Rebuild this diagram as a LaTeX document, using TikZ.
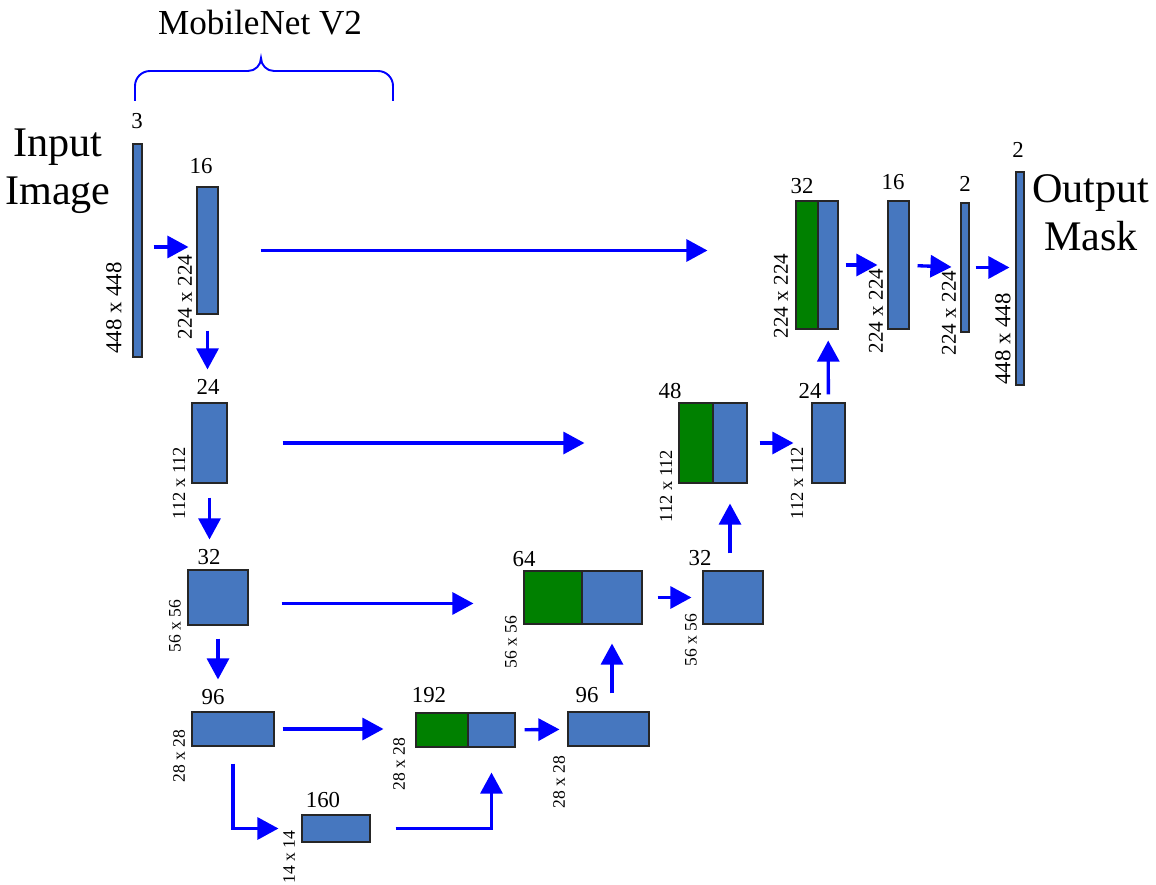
\documentclass[tikz,border=0pt]{standalone}
\usepackage{fontspec}
\setmainfont{Liberation Serif}
\usetikzlibrary{positioning,arrows.meta,fit}

\definecolor{featblue}{RGB}{70,119,191}
\definecolor{catgreen}{RGB}{0,128,0}
\definecolor{flowblue}{RGB}{0,0,255}
\newdimen\pxu \pxu=0.02cm

\begin{document}
\begin{tikzpicture}[
    x=0.02cm, y=-0.02cm,
    % feature maps
    fmap/.style={rectangle, draw=black!85, line width=0.6pt, fill=featblue,
                 inner sep=0pt},
    cmap/.style={fmap, fill=catgreen},
    % labels
    num/.style={inner sep=0pt, font=\fontsize{13}{15}\selectfont},
    dimlbl/.style={inner sep=0pt, rotate=90, font=\fontsize{#1}{#1}\selectfont},
    dimlbl/.default=10,
    bigtext/.style={align=center, inner sep=0pt, font=\fontsize{24}{27.5}\selectfont},
    % arrows
    arrow/.style={-{Triangle[length=12pt, width=12.5pt]}, flowblue, line width=1.9pt},
    brace/.style={flowblue, line width=1.1pt}
]
\useasboundingbox (0,0) rectangle (1156,885);

% Titles
\node[font=\fontsize{20}{22}\selectfont, inner sep=0pt] (mnet) at (260,23) {MobileNet V2};
\node[bigtext] (inimg) at (58,171) {Input\\Image};
\node[bigtext] (outmask) at (1091,213) {Output\\Mask};

% Encoder
\node[fmap, fit={(133,144) (142,357)}] (in) {};
\node[fmap, fit={(197,187) (218,314)}] (e16) {};
\node[fmap, fit={(192,403) (227,483)}] (e24) {};
\node[fmap, fit={(188,570) (248,625)}] (e32) {};
\node[fmap, fit={(192,712) (274,746)}] (e96) {};
\node[fmap, fit={(302,815) (370,842)}] (e160) {};

% Decoder
\node[cmap, fit={(416,713) (468,747)}] (c192g) {};
\node[fmap, fit={(468,713) (515,747)}] (c192b) {};
\node[fmap, fit={(568,712) (649,746)}] (d96) {};
\node[cmap, fit={(524,571) (582,624)}] (c64g) {};
\node[fmap, fit={(582,571) (642,624)}] (c64b) {};
\node[fmap, fit={(703,571) (763,624)}] (d32) {};
\node[cmap, fit={(679,403) (713,483)}] (c48g) {};
\node[fmap, fit={(713,403) (747,483)}] (c48b) {};
\node[fmap, fit={(812,403) (845,483)}] (d24) {};
\node[cmap, fit={(796,201) (818,329)}] (c32g) {};
\node[fmap, fit={(818,201) (838,329)}] (c32b) {};
\node[fmap, fit={(888,201) (909,329)}] (d16) {};
\node[fmap, fit={(961,203) (969,332)}] (d2) {};
\node[fmap, fit={(1016,172) (1024,385)}] (out) {};

% Channel numbers
\node[num] (n3) at (137,121) {3};
\node[num] (n16) at (201,166) {16};
\node[num] (n24) at (208,387) {24};
\node[num] (n32) at (209,557) {32};
\node[num] (n96) at (213,697) {96};
\node[num] (n160) at (323,800) {160};
\node[num] (n192) at (429,695) {192};
\node[num] (n96d) at (587,695) {96};
\node[num] (n64) at (524,559) {64};
\node[num] (n32d) at (700,558) {32};
\node[num] (n48) at (670,391) {48};
\node[num] (n24d) at (810,391) {24};
\node[num] (n32t) at (802,186) {32};
\node[num] (n16d) at (893,182) {16};
\node[num] (n2) at (965,184) {2};
\node[num] (n2o) at (1018,150) {2};

% Spatial sizes
\node[dimlbl=13] (s448) at (114,308) {448 x 448};
\node[dimlbl=12] (s224) at (185,297) {224 x 224};
\node[dimlbl=10.5] (s112) at (179,483) {112 x 112};
\node[dimlbl] (s56) at (175,626) {56 x 56};
\node[dimlbl] (s28) at (179,756) {28 x 28};
\node[dimlbl] (s14) at (289,857) {14 x 14};
\node[dimlbl] (s28c) at (399,764) {28 x 28};
\node[dimlbl] (s28d) at (559,782) {28 x 28};
\node[dimlbl] (s56c) at (511,642) {56 x 56};
\node[dimlbl] (s56d) at (691,640) {56 x 56};
\node[dimlbl=10.5] (s112c) at (666,486) {112 x 112};
\node[dimlbl=10.5] (s112d) at (797,483) {112 x 112};
\node[dimlbl=12] (s224c) at (781,296) {224 x 224};
\node[dimlbl=12] (s224d) at (876,311) {224 x 224};
\node[dimlbl=12] (s224e) at (949,313) {224 x 224};
\node[dimlbl=13] (s448o) at (1003,339) {448 x 448};

% Encoder path
\draw[arrow, shorten <=11\pxu, shorten >=8\pxu] ([yshift=2pt]in.east) -- ([yshift=2pt]in.east -| e16.west);
\draw[arrow, shorten <=16\pxu, shorten >=33\pxu] (e16.south) -- (e16.south |- e24.north);
\draw[arrow, shorten <=14\pxu, shorten >=30\pxu] (e24.south) -- (e24.south |- e32.north);
\draw[arrow, shorten <=13\pxu, shorten >=32\pxu] (e32.south) -- (e32.south |- e96.north);
\draw[arrow, shorten <=17\pxu, shorten >=23\pxu] (e96.south) |- (e160.west);

% Skip connections
\draw[arrow, shorten <=42\pxu, shorten >=88\pxu] (e16.east) -- (e16.east -| c32g.west);
\draw[arrow, shorten <=55\pxu, shorten >=94\pxu] (e24.east) -- (e24.east -| c48g.west);
\draw[arrow, shorten <=33\pxu, shorten >=50\pxu] ([yshift=-3.4pt]e32.east) -- ([yshift=-3.4pt]e32.east -| c64g.west);
\draw[arrow, shorten <=8\pxu, shorten >=32\pxu] (e96.east) -- (e96.east -| c192g.west);

% Decoder path
\draw[arrow, shorten <=25\pxu, shorten >=25\pxu] (e160.east) -| (c192b.south);
\draw[arrow, shorten <=9\pxu, shorten >=8\pxu] (c192b) -- (d96);
\draw[arrow, shorten <=18\pxu, shorten >=19\pxu] (d96.north -| c64b) -- (c64b.south);
\draw[arrow, shorten <=15\pxu, shorten >=11\pxu] (c64b) -- (d32);
\draw[arrow, shorten <=17\pxu, shorten >=20\pxu] (d32.north -| c48b) -- (c48b.south);
\draw[arrow, shorten <=12\pxu, shorten >=18\pxu] (c48b) -- (d24);
\draw[arrow, shorten <=8\pxu, shorten >=11\pxu] (d24) -- (c32b);
\draw[arrow, shorten <=7\pxu, shorten >=10\pxu] (c32b) -- (d16);
\draw[arrow, shorten <=8\pxu, shorten >=9\pxu] (d16) -- (d2);
\draw[arrow, shorten <=6\pxu, shorten >=6\pxu] (d2) -- (d2 -| out.west);

% Backbone brace
\draw[brace] (135,101) -- (135,86) to[out=90,in=180] (150,71) -- (248,71)
    to[out=0,in=-90] (261,58) to[out=-90,in=180] (274,71) -- (378,71)
    to[out=0,in=90] (393,86) -- (393,101);

\end{tikzpicture}
\end{document}
